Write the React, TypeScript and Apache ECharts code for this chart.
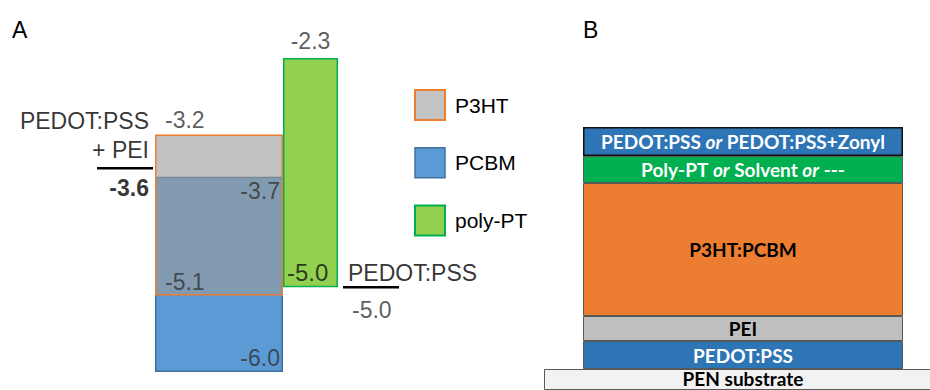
import React, { useEffect, useRef } from 'react';
import * as echarts from 'echarts';

// ---- data (energy levels in eV) ----
const materials = ['P3HT', 'PCBM', 'poly-PT'];
const lumoLevels = [-3.2, -3.7, -2.3];
const homoLevels = [-5.1, -6.0, -5.0];
const electrodeNames = ['PEDOT:PSS\n+ PEI', 'PEDOT:PSS'];
const electrodeLevels = [-3.6, -5.0];

// ---- device stack (bottom to top, schematic thickness of the visible part) ----
const layerNames = ['PEN substrate', 'PEDOT:PSS', 'PEI', 'P3HT:PCBM', 'Poly-PT or Solvent or ---', 'PEDOT:PSS or PEDOT:PSS+Zonyl'];
const layerThickness = [21, 28, 25, 133, 27, 29];

const E_MIN = Math.min(...homoLevels, ...electrodeLevels);
const E_MAX = Math.max(...lumoLevels, ...electrodeLevels);

const FONT = '"Liberation Sans", Arial, sans-serif';
const BFONT = 'Lato, "Open Sans", sans-serif';

const lab = (extra: any) => ({ show: true, fontFamily: FONT, fontSize: 23, color: '#333', ...extra });
const f1 = (v: number) => v.toFixed(1);

const hidden = { show: false };

export default function App() {
  const ref = useRef<HTMLDivElement>(null);
  useEffect(() => {
    if (!ref.current) return;
    const chart = echarts.init(ref.current, null, { renderer: 'svg' });

    const yA = (i: number) => ({ gridIndex: i, type: 'value', min: E_MIN, max: E_MAX, ...hidden });
    const x01 = (i: number, pos = 'bottom') => ({ gridIndex: i, type: 'value', min: 0, max: 1, position: pos, ...hidden });

    const labelScatter = (xi: number, yi: number, data: any[]) => ({
      type: 'scatter', xAxisIndex: xi, yAxisIndex: yi, symbolSize: 0.1, clip: false, silent: true,
      itemStyle: { color: 'transparent' }, data, z: 10,
    });

    const [iP3, iPC, iPP] = [0, 1, 2];
    const subT = layerThickness[0];
    const total = layerThickness.reduce((a, b) => a + b, 0);
    const layerColors = ['#f2f2f2', '#2e75b6', '#bfbfbf', '#ed7d31', '#00b050', '#2e75b6'];
    const layerText = ['#000', '#fff', '#000', '#000', '#fff', '#fff'];
    const richFor = (color: string) => ({
      n: { fontFamily: BFONT, fontWeight: 'bold', fontSize: 19, lineHeight: 19, color },
      i: { fontFamily: BFONT, fontWeight: 'bold', fontStyle: 'italic', fontSize: 19, lineHeight: 19, color },
    });
    const fmtLayer = (name: string) =>
      name.split(' or ').map((p) => `{n|${p}}`).join('{n| }{i|or}{n| }');

    const deviceSeries = layerNames.slice(1).map((name, k) => {
      const idx = k + 1;
      const isTop = idx === layerNames.length - 1;
      return {
        type: 'bar', name, xAxisIndex: 6, yAxisIndex: 4, stack: 'dev', barWidth: 320, clip: false, silent: true,
        data: [layerThickness[idx]],
        itemStyle: { color: layerColors[idx], borderColor: isTop ? '#111' : '#595959', borderWidth: isTop ? 1.5 : 1 },
        label: { show: true, position: 'inside', formatter: fmtLayer(name), rich: richFor(layerText[idx]) },
      };
    });

    const option: any = {
      animation: false,
      title: [
        { text: 'A', left: 7, top: 13, textStyle: { fontFamily: FONT, fontSize: 23, fontWeight: 'normal', color: '#000' } },
        { text: 'B', left: 578, top: 13, textStyle: { fontFamily: FONT, fontSize: 23, fontWeight: 'normal', color: '#000' } },
      ],
      legend: {
        orient: 'vertical', left: 414, top: 89, padding: 0, itemWidth: 30, itemHeight: 30, itemGap: 26,
        selectedMode: false, icon: 'rect',
        textStyle: { fontFamily: FONT, fontSize: 21, color: '#000', padding: [0, 0, 0, 5] },
        data: [
          { name: materials[iP3], itemStyle: { color: '#c3c3c3', borderColor: '#ed7d31', borderWidth: 2 } },
          { name: materials[iPC], itemStyle: { color: '#5b9bd5', borderColor: '#41719c', borderWidth: 1.5 } },
          { name: materials[iPP], itemStyle: { color: '#92d050', borderColor: '#00b050', borderWidth: 2 } },
        ],
      },
      grid: [
        { left: 97, top: 58, width: 56, height: 314 },
        { left: 155, top: 58, width: 128, height: 314 },
        { left: 283, top: 58, width: 55, height: 314 },
        { left: 343, top: 58, width: 56, height: 314 },
        { left: 556, top: 127, width: 374, height: total },
      ],
      xAxis: [
        x01(0),
        { gridIndex: 1, type: 'category', data: ['P3HT/PCBM'], ...hidden },
        x01(1, 'top'),
        { gridIndex: 2, type: 'category', data: ['poly-PT'], ...hidden },
        x01(2, 'top'),
        x01(3),
        { gridIndex: 4, type: 'category', data: ['device'], ...hidden },
        { gridIndex: 4, type: 'category', data: ['substrate'], position: 'top', ...hidden },
      ],
      yAxis: [
        yA(0), yA(1), yA(2), yA(3),
        { gridIndex: 4, type: 'value', min: 0, max: total, ...hidden },
      ],
      series: [
        // electrode level (left)
        {
          type: 'line', name: electrodeNames[0], xAxisIndex: 0, yAxisIndex: 0, symbol: 'none', silent: true,
          lineStyle: { color: '#000', width: 2.5 }, data: [[0, electrodeLevels[0]], [1, electrodeLevels[0]]],
        },
        labelScatter(0, 0, [
          { value: [1, electrodeLevels[0]], label: lab({ formatter: electrodeNames[0], position: 'top', align: 'right', offset: [-4, 0], distance: 4, color: '#000', lineHeight: 29 }) },
          { value: [1, electrodeLevels[0]], label: lab({ formatter: f1(electrodeLevels[0]), position: 'bottom', align: 'right', offset: [-4, 0], distance: 8, color: '#000', fontWeight: 'bold' }) },
        ]),
        // PCBM (base + bar)
        {
          type: 'bar', name: 'PCBM base', xAxisIndex: 1, yAxisIndex: 1, stack: 'pcbm', barWidth: '100%', barGap: '-100%', silent: true,
          itemStyle: { color: 'transparent' }, data: [lumoLevels[iPC]],
        },
        {
          type: 'bar', name: materials[iPC], xAxisIndex: 1, yAxisIndex: 1, stack: 'pcbm', barWidth: '100%', barGap: '-100%', clip: false, silent: true,
          itemStyle: { color: '#5b9bd5', borderColor: '#41719c', borderWidth: 1.5 }, data: [homoLevels[iPC] - lumoLevels[iPC]],
        },
        // P3HT (base + bar)
        {
          type: 'bar', name: 'P3HT base', xAxisIndex: 1, yAxisIndex: 1, stack: 'p3ht', barWidth: '100%', barGap: '-100%', silent: true,
          itemStyle: { color: 'transparent' }, data: [lumoLevels[iP3]],
        },
        {
          type: 'bar', name: materials[iP3], xAxisIndex: 1, yAxisIndex: 1, stack: 'p3ht', barWidth: '100%', barGap: '-100%', clip: false, silent: true,
          itemStyle: { color: 'rgba(155,155,155,0.62)', borderColor: '#ed7d31', borderWidth: 1.5 }, data: [homoLevels[iP3] - lumoLevels[iP3]],
        },
        labelScatter(2, 1, [
          { value: [0, lumoLevels[iP3]], label: lab({ formatter: f1(lumoLevels[iP3]), position: 'top', align: 'left', offset: [10, 0], distance: 3 }) },
          { value: [1, lumoLevels[iPC]], label: lab({ formatter: f1(lumoLevels[iPC]), position: 'bottom', align: 'right', offset: [-3, 0], distance: 3 }) },
          { value: [0, homoLevels[iP3]], label: lab({ formatter: f1(homoLevels[iP3]), position: 'top', align: 'left', offset: [10, 0], distance: 2 }) },
          { value: [1, homoLevels[iPC]], label: lab({ formatter: f1(homoLevels[iPC]), position: 'top', align: 'right', offset: [-3, 0], distance: 2 }) },
        ]),
        // poly-PT
        {
          type: 'bar', name: 'poly-PT base', xAxisIndex: 3, yAxisIndex: 2, stack: 'pp', barWidth: '100%', silent: true,
          itemStyle: { color: 'transparent' }, data: [lumoLevels[iPP]],
        },
        {
          type: 'bar', name: materials[iPP], xAxisIndex: 3, yAxisIndex: 2, stack: 'pp', barWidth: '100%', clip: false, silent: true,
          itemStyle: { color: '#92d050', borderColor: '#00b050', borderWidth: 1.5 }, data: [homoLevels[iPP] - lumoLevels[iPP]],
        },
        labelScatter(4, 2, [
          { value: [0.5, lumoLevels[iPP]], label: lab({ formatter: f1(lumoLevels[iPP]), position: 'top', distance: 5 }) },
          { value: [0, homoLevels[iPP]], label: lab({ formatter: f1(homoLevels[iPP]), position: 'top', align: 'left', offset: [4, 0], distance: 3, color: '#111', fontSize: 24 }) },
        ]),
        // electrode level (right)
        {
          type: 'line', name: electrodeNames[1], xAxisIndex: 5, yAxisIndex: 3, symbol: 'none', silent: true,
          lineStyle: { color: '#000', width: 2.5 }, data: [[0, electrodeLevels[1]], [1, electrodeLevels[1]]],
        },
        labelScatter(5, 3, [
          { value: [0, electrodeLevels[1]], label: lab({ formatter: electrodeNames[1], position: 'top', align: 'left', offset: [5, 0], distance: 3, color: '#000' }) },
          { value: [0, electrodeLevels[1]], label: lab({ formatter: f1(electrodeLevels[1]), position: 'bottom', align: 'left', offset: [9, 0], distance: 11 }) },
        ]),
        // device stack
        {
          type: 'bar', name: layerNames[0], xAxisIndex: 7, yAxisIndex: 4, barWidth: 398, clip: false, silent: true,
          data: [subT], itemStyle: { color: layerColors[0], borderColor: '#595959', borderWidth: 1 },
          label: { show: true, position: 'inside', offset: [0, -1], formatter: fmtLayer(layerNames[0]), rich: richFor(layerText[0]) },
        },
        {
          type: 'bar', name: 'device base', xAxisIndex: 6, yAxisIndex: 4, stack: 'dev', barWidth: 320, silent: true,
          data: [subT], itemStyle: { color: 'transparent' },
        },
        ...deviceSeries,
      ],
    };
    chart.setOption(option);
    return () => chart.dispose();
  }, []);
  return <div ref={ref} style={{ position: 'absolute', left: 0, top: 0, width: 930, height: 390 }} />;
}
